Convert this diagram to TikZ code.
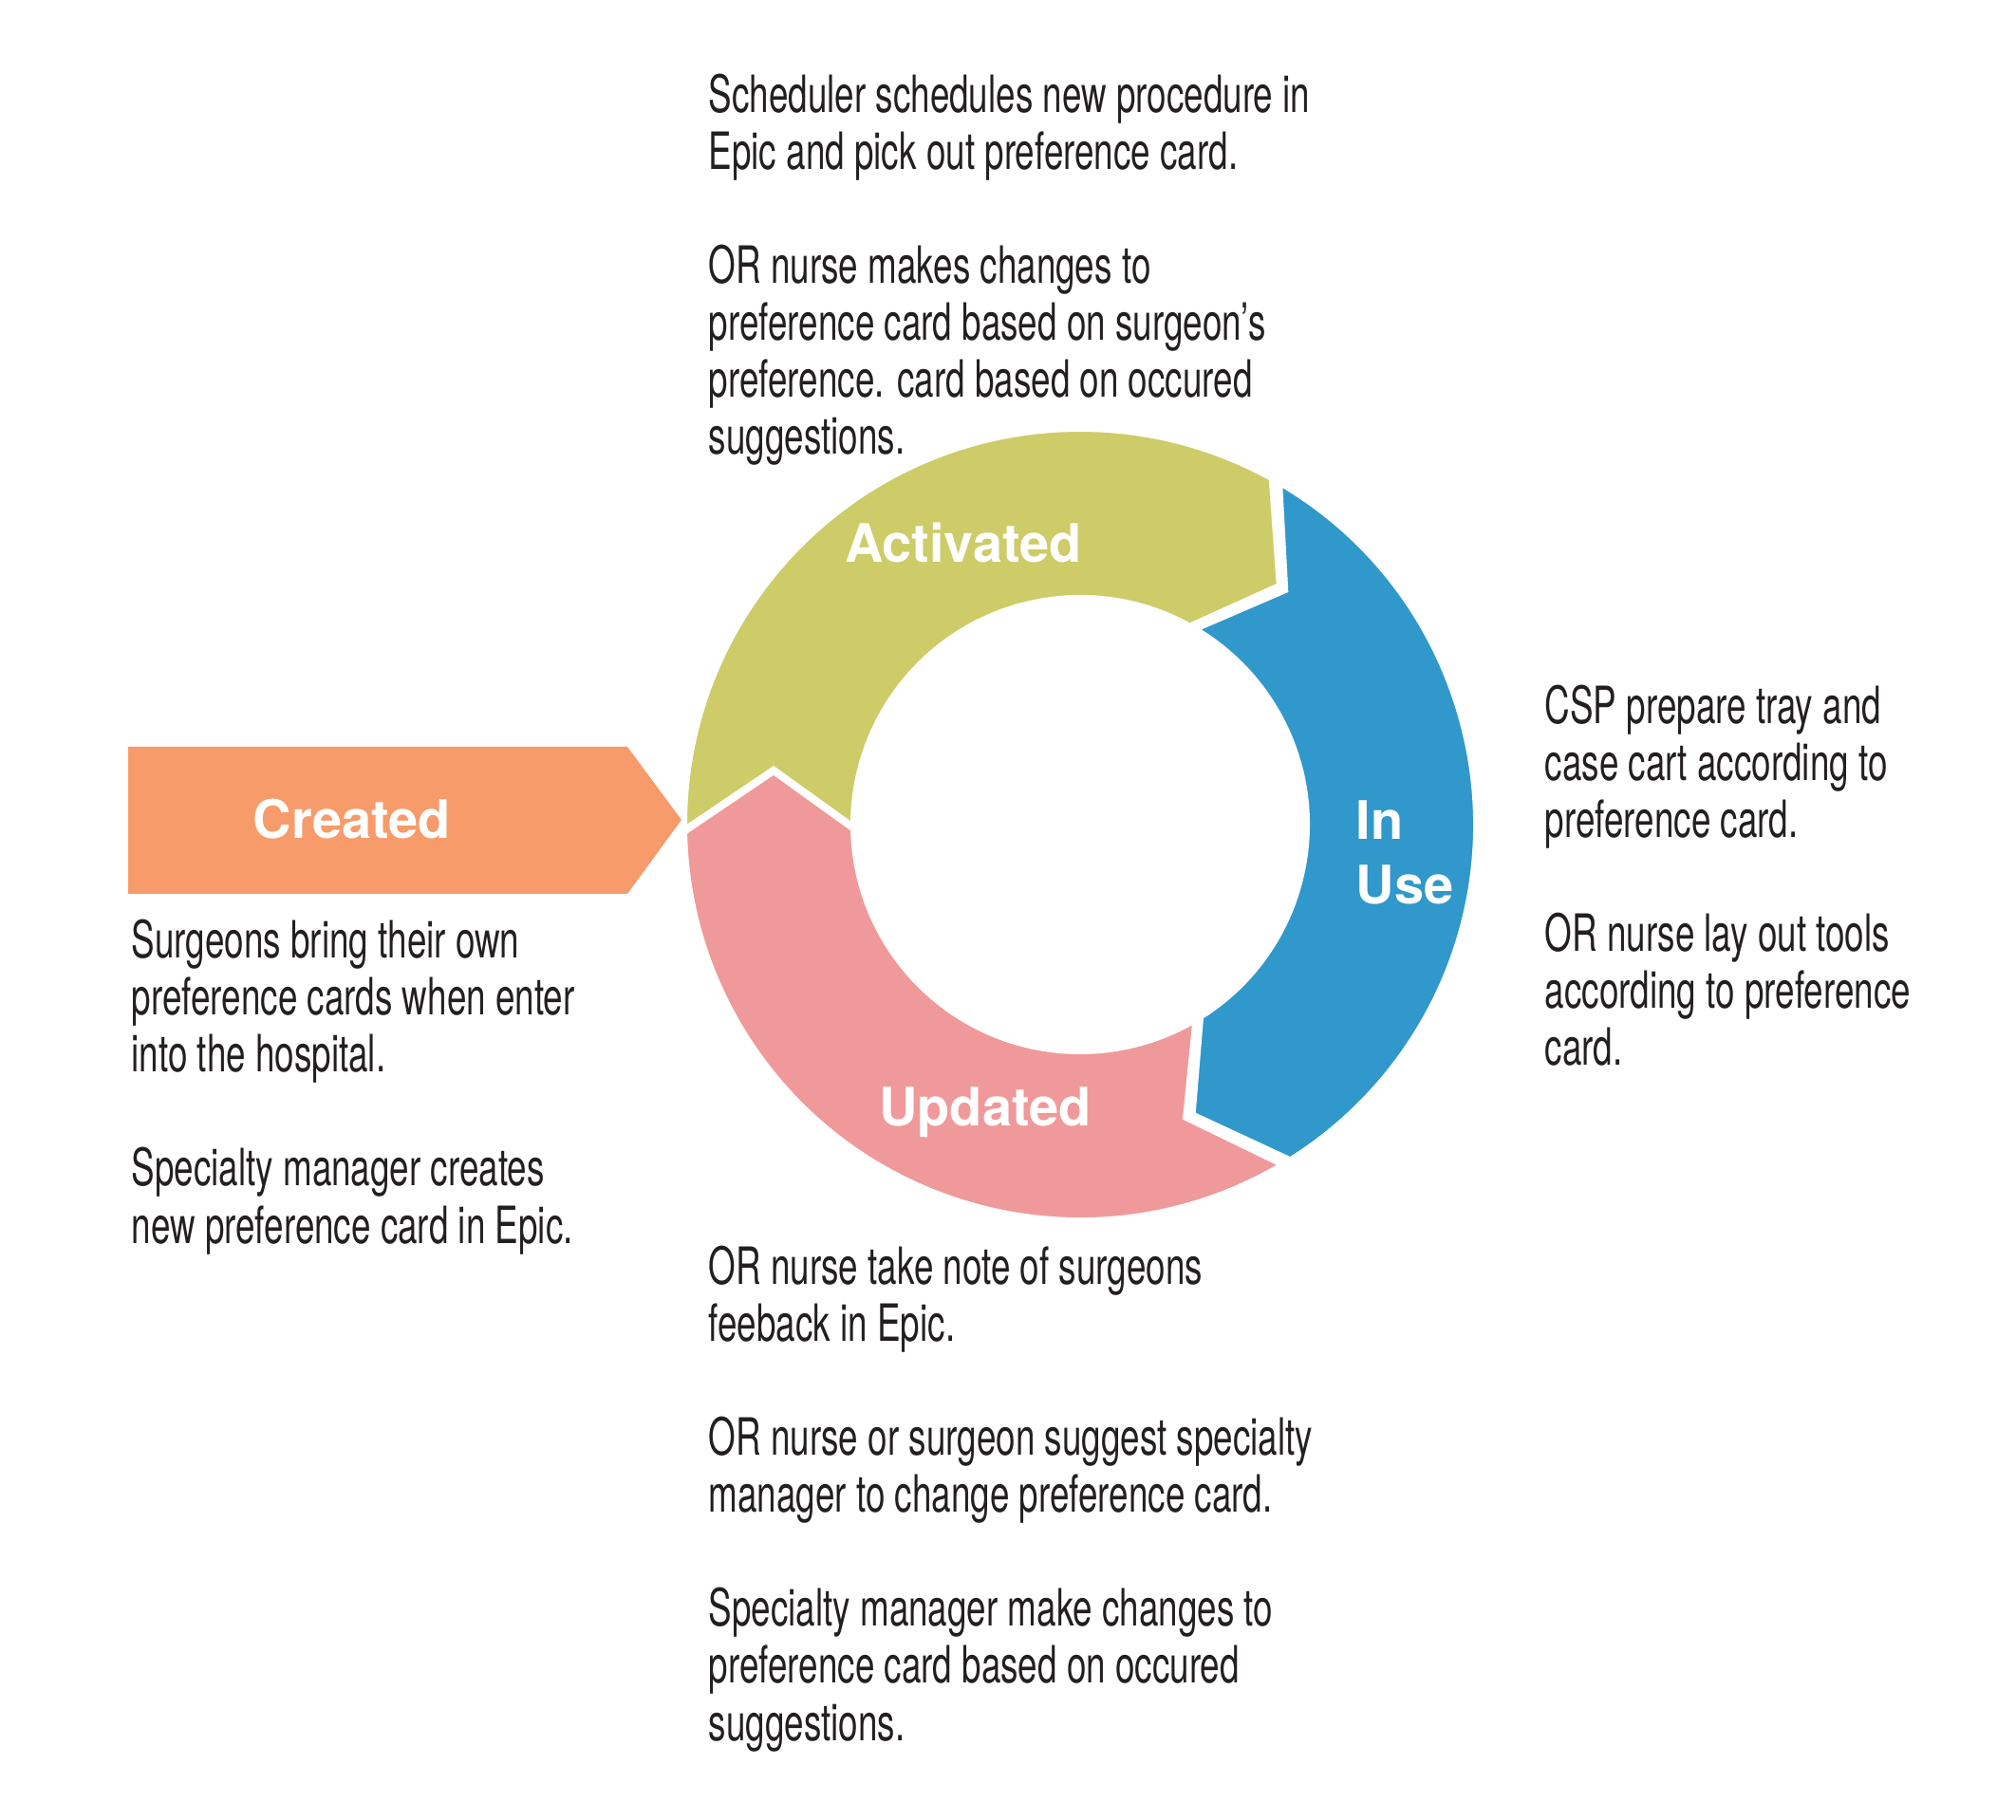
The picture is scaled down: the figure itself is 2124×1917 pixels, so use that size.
\documentclass[tikz,border=0pt]{standalone}
\usepackage{fontspec}
\setmainfont{TeX Gyre Heros}
\newfontfamily\descfont[FakeStretch=0.68]{TeX Gyre Heros}
\usetikzlibrary{positioning}

\definecolor{actgreen}{RGB}{205,204,104}
\definecolor{useblue}{RGB}{48,152,203}
\definecolor{updpink}{RGB}{240,153,154}
\definecolor{crtorange}{RGB}{247,155,106}
\definecolor{desctext}{RGB}{35,31,32}

\newcommand{\Rout}{418}
\newcommand{\Rin}{238}
\newcommand{\Rmid}{328}
\newcommand{\tipang}{11}
\newcommand{\parskipline}{17.07pt}
% one coloured piece of the ring: colour, start angle, end angle
\newcommand{\ringarrow}[3]{%
  \filldraw[seg, fill=#1] (#2:\Rout) arc[start angle=#2, end angle=#3, radius=\Rout]
    -- ({#3-\tipang}:\Rmid) -- (#3:\Rin) arc[start angle=#3, end angle=#2, radius=\Rin]
    -- ({#2-\tipang}:\Rmid) -- cycle;}

\begin{document}
\begin{tikzpicture}[x=0.01cm,y=0.01cm,
  seg/.style={draw=white,line width=0.8mm,line join=miter},
  desc/.style={anchor=base west,align=left,inner sep=0pt,text=desctext,
    font=\descfont\fontsize{15.4}{17.07}\selectfont},
  stage/.style={anchor=base,text=white,inner sep=0pt,
    font=\bfseries\fontsize{15.9}{19.6}\selectfont}]
  \useasboundingbox (0,0) rectangle (2124,1917);

  % ring
  \begin{scope}[shift={(1138,1048)}]
    \ringarrow{actgreen}{181}{61}
    \ringarrow{useblue}{60}{-58}
    \ringarrow{updpink}{-59}{-179}
  \end{scope}
  \fill[crtorange] (135,975) -- (661,975) -- (718,1053) -- (661,1130) -- (135,1130) -- cycle;

  % base of a multi-line node = its last line
  \node (created) [stage] at (371,1033) {Created};
  \node (activated) [stage] at (1015,1324) {Activated};
  \node (updated) [stage] at (1038,731) {Updated};
  \node (inuse) [stage,anchor=base west,align=left] at (1428,964) {In\\Use};

  \node (actdesc) [desc] at (746,1438)
    {Scheduler schedules new procedure in\\Epic and pick out preference card.\\[\parskipline]
     OR nurse makes changes to\\preference card based on surgeon’s\\preference. card based on occured\\suggestions.};
  \node (usedesc) [desc] at (1627,794)
    {CSP prepare tray and\\case cart according to\\preference card.\\[\parskipline]
     OR nurse lay out tools\\according to preference\\card.};
  \node (crtdesc) [desc] at (138,607)
    {Surgeons bring their own\\preference cards when enter\\into the hospital.\\[\parskipline]
     Specialty manager creates\\new preference card in Epic.};
  \node (upddesc) [desc] at (746,83)
    {OR nurse take note of surgeons\\feeback in Epic.\\[\parskipline]
     OR nurse or surgeon suggest specialty\\manager to change preference card.\\[\parskipline]
     Specialty manager make changes to\\preference card based on occured\\suggestions.};
\end{tikzpicture}
\end{document}
